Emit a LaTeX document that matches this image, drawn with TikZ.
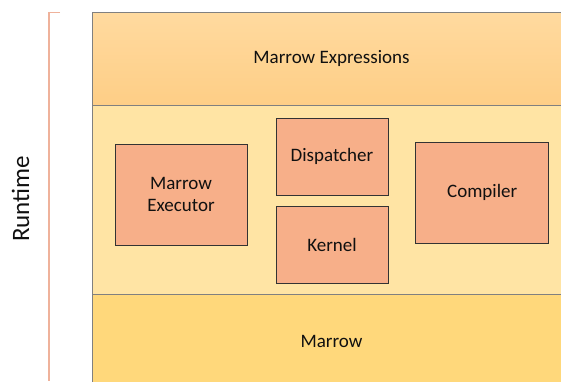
\documentclass[tikz,border=0pt]{standalone}
\usepackage{fontspec}
\setmainfont{Carlito}
\definecolor{bandtopA}{HTML}{FFDA9F}
\definecolor{bandtopB}{HTML}{FECE86}
\definecolor{bandmid}{HTML}{FFE4A4}
\definecolor{bandbot}{HTML}{FFD87B}
\definecolor{boxfill}{HTML}{F7AF89}
\definecolor{brk}{HTML}{EFB29B}
\definecolor{txt}{HTML}{101010}
\begin{document}
\begin{tikzpicture}[x=1pt,y=-1pt,
  band/.style={draw=black!50,line width=0.9pt},
  comp/.style={draw=black!80,line width=0.8pt,fill=boxfill,align=center,font=\fontsize{19}{22}\selectfont,text=txt},
  lbl/.style={font=\fontsize{19}{22}\selectfont,text=txt}]
\useasboundingbox (0,0) rectangle (561,381);
\begin{scope}
\clip (0,0) rectangle (561,381);
\shade[top color=bandtopA,bottom color=bandtopB] (92,12) rectangle (575,105);
\fill[bandmid] (92,105) rectangle (575,294.5);
\fill[bandbot] (92,294.5) rectangle (575,390);
\draw[band] (575,12) -- (92,12) -- (92,390);
\draw[band] (92,105) -- (575,105);
\draw[band] (92,294.5) -- (575,294.5);
\end{scope}
\node[lbl] (expr) at (331.5,58.5) {Marrow Expressions};
\node[lbl] (marrow) at (331.5,341) {Marrow};
\node[comp,minimum width=132pt,minimum height=101pt] (exec) at (181,194.5) {Marrow\\Executor};
\node[comp,minimum width=112pt,minimum height=77pt] (disp) at (332,156.5) {Dispatcher};
\node[comp,minimum width=112pt,minimum height=77pt] (kern) at (332,245) {Kernel};
\node[comp,minimum width=133pt,minimum height=101pt] (comp) at (482.2,192.8) {Compiler};
\coordinate (bt) at (60,12.5);
\coordinate (bc) at (49,12.5);
\coordinate (bb) at (49,381);
\draw[brk,line width=1.5pt] (bt) -- (bc) -- (bb);
\node[rotate=90,font=\fontsize{25}{30}\selectfont,text=txt] (rt) at (20.5,199) {Runtime};
\end{tikzpicture}
\end{document}
